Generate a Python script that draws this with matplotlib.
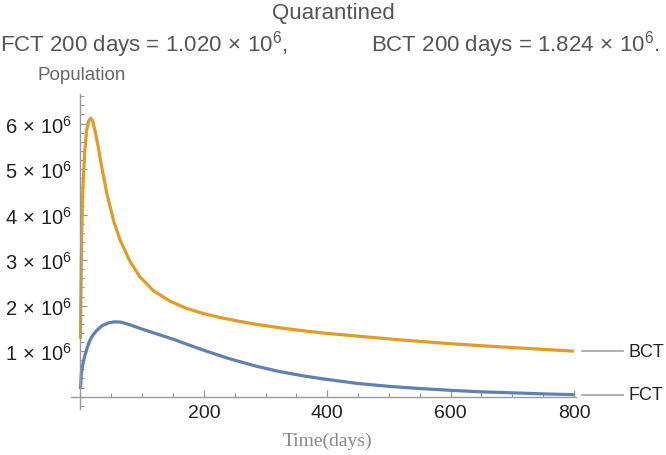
import matplotlib
matplotlib.use('Agg')
from matplotlib import pyplot as plt
from matplotlib.lines import Line2D
from matplotlib.ticker import MultipleLocator, FixedLocator, FuncFormatter

plt.rcParams['font.family'] = ['Liberation Sans', 'DejaVu Sans']
plt.rcParams['mathtext.fontset'] = 'custom'
plt.rcParams['mathtext.rm'] = 'Liberation Sans'
plt.rcParams['mathtext.it'] = 'Liberation Sans:italic'
plt.rcParams['mathtext.bf'] = 'Liberation Sans:bold'

# time in days and population (millions)
t_bct = [0, 1, 2, 4, 7, 10, 13, 16.5, 20, 24, 29, 34, 43, 54, 64, 80, 96, 118,
         145, 172, 200, 226, 256, 285, 320, 360, 400, 450, 500, 550, 600, 650,
         700, 750, 800]
bct = [1.27, 2.5, 3.6, 4.6, 5.4, 5.85, 6.05, 6.12, 6.05, 5.82, 5.47, 5.08,
       4.45, 3.85, 3.45, 2.98, 2.64, 2.33, 2.1, 1.94, 1.824, 1.74, 1.66, 1.59,
       1.52, 1.45, 1.39, 1.33, 1.27, 1.215, 1.165, 1.12, 1.08, 1.04, 1.0]

t_fct = [0, 1.5, 4, 7, 11, 15, 20, 26, 35, 45, 55, 65, 80, 99, 126, 153, 177,
         200, 240, 285, 320, 360, 394, 450, 502, 550, 600, 648, 700, 750, 800]
fct = [0.17, 0.52, 0.72, 0.9, 1.08, 1.23, 1.35, 1.45, 1.56, 1.62, 1.645, 1.64,
       1.58, 1.49, 1.37, 1.25, 1.13, 1.02, 0.84, 0.67, 0.56, 0.46, 0.39, 0.29,
       0.225, 0.18, 0.14, 0.108, 0.085, 0.062, 0.045]

series = [('BCT', t_bct, bct, '#E19C24'), ('FCT', t_fct, fct, '#5E81B5')]
x_ticks = [200, 400, 600, 800]
y_ticks = [1, 2, 3, 4, 5, 6]

fig = plt.figure(figsize=(6.66, 4.56), dpi=100)
ax = fig.add_axes([0.106, 0.1009, 0.7595, 0.6908])

for name, t, v, c in series:
    ax.plot(t, [x * 1e6 for x in v], color=c, lw=2.3, solid_capstyle='butt',
            solid_joinstyle='round', clip_on=False)
    ax.annotate(name, xy=(t[-1], v[-1] * 1e6), xytext=(55, 0),
                textcoords='offset pixels', va='center', ha='left',
                fontsize=13, color='#222222', annotation_clip=False)

ax.set_xlim(-16, 804)
ax.set_ylim(-0.27e6, 6.65e6)

for s in ['top', 'right']:
    ax.spines[s].set_visible(False)
for s in ['left', 'bottom']:
    ax.spines[s].set_position(('data', 0))
    ax.spines[s].set_color('#999999')
    ax.spines[s].set_linewidth(1.0)
ax.spines['left'].set_bounds(-0.27e6, 6.65e6)
ax.spines['bottom'].set_bounds(-16, 804)

ax.xaxis.set_major_locator(FixedLocator(x_ticks))
ax.xaxis.set_minor_locator(MultipleLocator(50))
ax.yaxis.set_major_locator(FixedLocator([y * 1e6 for y in y_ticks]))
ax.yaxis.set_minor_locator(MultipleLocator(0.2e6))
ax.yaxis.set_major_formatter(FuncFormatter(
    lambda v, p: r'$%d\,\times\,10^{6}$' % round(v / 1e6)))
ax.tick_params(axis='both', which='major', direction='in', length=5,
               width=0.9, color='#999999', labelcolor='#222222')
ax.tick_params(axis='both', which='minor', direction='in', length=3,
               width=0.8, color='#999999')
ax.tick_params(axis='x', which='major', pad=5, labelsize=14)
ax.tick_params(axis='y', which='major', pad=6, labelsize=14.5)

fig.canvas.draw()
# grey connector lines between curve ends and their names
for name, t, v, c in series:
    x0, y0 = ax.transData.transform((t[-1], v[-1] * 1e6))
    fy = y0 / fig.bbox.height
    fig.add_artist(Line2D([(x0 + 8) / fig.bbox.width, (x0 + 49) / fig.bbox.width],
                          [fy, fy], color='#aaaaaa', lw=1.3))

fig.text(ax.transData.transform((x_ticks[1], 0))[0] / fig.bbox.width,
         1 - 441 / 456, 'Time(days)', family='Liberation Serif', fontsize=14,
         color='#888888', ha='center', va='center')

fig.text(0.5, 1 - 13 / 456, 'Quarantined', ha='center', va='center',
         fontsize=16, color='#555555')
fig.text(0.0, 1 - 45 / 456, r'FCT 200 days = $1.020\,\times\,10^{6}$,',
         ha='left', va='center', fontsize=16, color='#555555')
fig.text(0.557, 1 - 45 / 456, r'BCT 200 days = $1.824\,\times\,10^{6}$.',
         ha='left', va='center', fontsize=16, color='#555555')
fig.text(0.056, 1 - 76 / 456, 'Population', ha='left', va='center',
         fontsize=13.5, color='#666666')

fig.savefig('out.png', dpi=100)
